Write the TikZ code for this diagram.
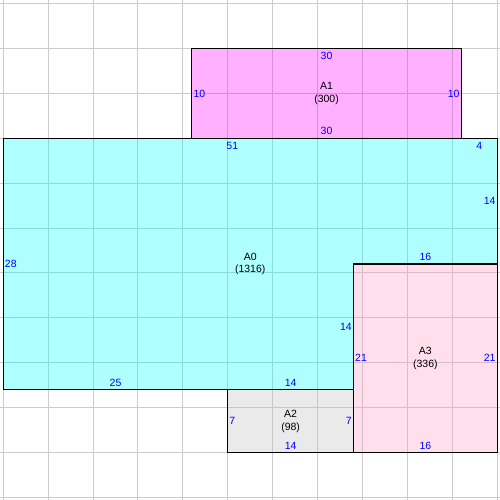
\documentclass[tikz,border=0pt]{standalone}
\usepackage{fontspec}
\setmainfont{Liberation Sans}
\definecolor{gridc}{RGB}{204,204,204}
\definecolor{lblue}{RGB}{0,0,255}
\definecolor{fillAzero}{RGB}{0,255,255}
\definecolor{fillAone}{RGB}{255,0,255}
\definecolor{fillAtwo}{RGB}{188,188,188}
\definecolor{fillAthree}{RGB}{255,152,192}
\tikzset{
  gridline/.style={draw=gridc, line width=1pt},
  region/.style={draw=black, line width=1.1pt, fill opacity=0.31, draw opacity=1},
  elbl/.style={text=lblue, font=\fontsize{10.5}{12}\selectfont, inner sep=1.5pt},
  arealbl/.style={text=black, font=\fontsize{10.5}{12.8}\selectfont, align=center, inner sep=0pt}
}
\begin{document}
\begin{tikzpicture}[x=8.98pt,y=-8.98pt]
\useasboundingbox (-0.367,-15.40) rectangle (55.31,40.28);
\clip (-0.367,-15.40) rectangle (55.31,40.28);
\fill[white] (-0.367,-15.40) rectangle (55.31,40.28);
% grid
\foreach \i in {0,5,...,55} \draw[gridline] (\i,-15.40) -- (\i,40.28);
\foreach \j in {-15,-10,...,40} \draw[gridline] (-0.367,\j) -- (55.31,\j);
% regions
\path[region, fill=fillAone] (21,-10) rectangle (51,0);
\path[region, fill=fillAzero] (0,0) -- (55,0) -- (55,14) -- (39,14) -- (39,28) -- (0,28) -- cycle;
\path[region, fill=fillAtwo] (25,28) rectangle (39,35);
\path[region, fill=fillAthree] (39,14) rectangle (55,35);
% area labels
\node[arealbl] (a1) at (36,-5) {A1\\(300)};
\node[arealbl] (a0) at (27.5,14) {A0\\(1316)};
\node[arealbl] (a2) at (32,31.5) {A2\\(98)};
\node[arealbl] (a3) at (47,24.5) {A3\\(336)};
% A1 edge labels
\node[elbl] (a1t) at (36,-9.2) {30};
\node[elbl] (a1b) at (36,-0.8) {30};
\node[elbl, anchor=west] (a1l) at (21,-5) {10};
\node[elbl, anchor=east] (a1r) at (51,-5) {10};
% A0 edge labels
\node[elbl] (a0t) at (25.5,0.8) {51};
\node[elbl] (a0t2) at (53,0.8) {4};
\node[elbl, anchor=east] (a0r) at (55,7) {14};
\node[elbl] (a0n) at (47,13.25) {16};
\node[elbl, anchor=east] (a0v) at (39,21) {14};
\node[elbl] (a0b2) at (32,27.25) {14};
\node[elbl] (a0b) at (12.5,27.25) {25};
\node[elbl, anchor=west] (a0l) at (0,14) {28};
% A2 edge labels
\node[elbl, anchor=west] (a2l) at (25,31.5) {7};
\node[elbl, anchor=east] (a2r) at (39,31.5) {7};
\node[elbl] (a2b) at (32,34.3) {14};
% A3 edge labels
\node[elbl, anchor=west] (a3l) at (39,24.5) {21};
\node[elbl, anchor=east] (a3r) at (55,24.5) {21};
\node[elbl] (a3b) at (47,34.3) {16};
\end{tikzpicture}
\end{document}
